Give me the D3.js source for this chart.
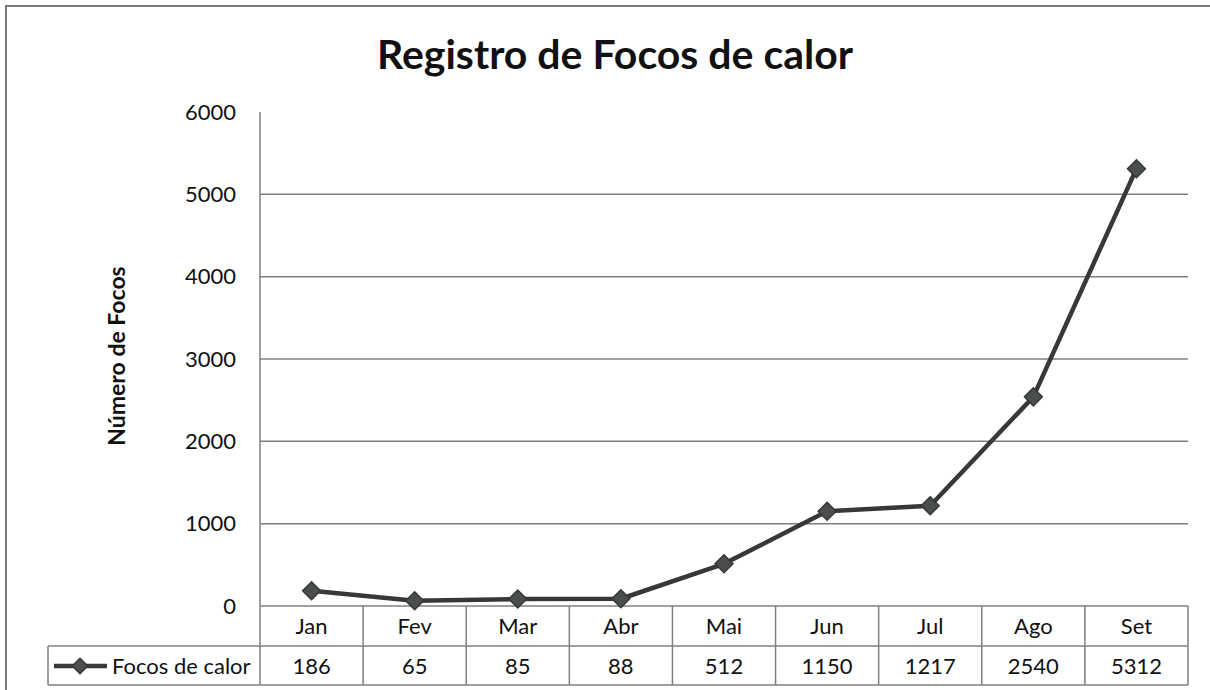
<!DOCTYPE html>
<html><head><meta charset="utf-8">
<script src="https://cdn.jsdelivr.net/npm/d3@7"></script>
<style>body{margin:0;background:#fff}svg{display:block}</style>
</head><body>
<svg id="c" width="1210" height="690"></svg>
<script>
const months = ["Jan","Fev","Mar","Abr","Mai","Jun","Jul","Ago","Set"];
const focos = [186,65,85,88,512,1150,1217,2540,5312];
const yTicks = [0,1000,2000,3000,4000,5000,6000];
const seriesName = "Focos de calor";
const title = "Registro de Focos de calor";
const yLabel = "Número de Focos";

const svg = d3.select("#c");
const font = "Lato, 'Open Sans', sans-serif";
const L = 260, R = 1188, T = 112, B = 606;
const x = d3.scaleBand().domain(months).range([L,R]);
const y = d3.scaleLinear().domain([0,6000]).range([B,T]);
const fs = 22;

// outer frame
svg.append("rect").attr("x",6).attr("y",6).attr("width",1230).attr("height",700)
  .attr("fill","none").attr("stroke","#777").attr("stroke-width",2);

// title
svg.append("text").attr("x",615).attr("y",69).attr("text-anchor","middle")
  .attr("font-family",font).attr("font-weight","bold").attr("font-size",41)
  .attr("fill","#111").text(title);

// y label
svg.append("text").attr("transform","translate(125,356) rotate(-90)")
  .attr("text-anchor","middle").attr("font-family",font).attr("font-weight","bold")
  .attr("font-size",23).attr("fill","#111").text(yLabel);

// gridlines (except 0 and top)
svg.append("g").selectAll("line").data(yTicks.filter(d=>d>0 && d<6000)).join("line")
  .attr("x1",L).attr("x2",R).attr("y1",d=>y(d)).attr("y2",d=>y(d))
  .attr("stroke","#7f7f7f").attr("stroke-width",1.5);

// y axis
const yAxis = d3.axisLeft(y).tickValues(yTicks).tickSize(0).tickPadding(24).tickFormat(d3.format("d"));
const ga = svg.append("g").attr("transform",`translate(${L},0)`).call(yAxis);
ga.select(".domain").remove();
ga.selectAll("text").attr("font-family",font).attr("font-size",fs).attr("fill","#111");
svg.append("line").attr("x1",L).attr("x2",L).attr("y1",T).attr("y2",B)
  .attr("stroke","#7f7f7f").attr("stroke-width",1.5);

// data table
const rowH = 40, r1 = B, r2 = B+rowH, r3 = B+2*rowH-1;
const tbl = svg.append("g").attr("stroke","#7f7f7f").attr("stroke-width",1.5);
tbl.append("line").attr("x1",L).attr("x2",R).attr("y1",r1).attr("y2",r1);
tbl.append("line").attr("x1",48).attr("x2",R).attr("y1",r2).attr("y2",r2);
tbl.append("line").attr("x1",48).attr("x2",R).attr("y1",r3).attr("y2",r3);
tbl.append("line").attr("x1",48).attr("x2",48).attr("y1",r2).attr("y2",r3);
tbl.selectAll(".v").data(months.map(m=>x(m)).concat([R])).join("line")
  .attr("x1",d=>d).attr("x2",d=>d).attr("y1",r1).attr("y2",r3);

svg.append("g").selectAll("text").data(months).join("text")
  .attr("x",d=>x(d)+x.bandwidth()/2).attr("y",r1+rowH/2+8).attr("text-anchor","middle")
  .attr("font-family",font).attr("font-size",fs).attr("fill","#111").text(d=>d);
svg.append("g").selectAll("text").data(focos).join("text")
  .attr("x",(d,i)=>x(months[i])+x.bandwidth()/2).attr("y",r2+rowH/2+8).attr("text-anchor","middle")
  .attr("font-family",font).attr("font-size",fs).attr("fill","#111").text(d=>d);

const lineCol = "#363938";
// legend
svg.append("line").attr("x1",54).attr("x2",107).attr("y1",r2+rowH/2).attr("y2",r2+rowH/2)
  .attr("stroke",lineCol).attr("stroke-width",4.5);
svg.append("path").attr("d",d3.symbol().type(d3.symbolSquare).size(120)())
  .attr("transform",`translate(80,${r2+rowH/2}) rotate(45)`).attr("fill","#4a4e4c").attr("stroke",lineCol).attr("stroke-width",1.5);
svg.append("text").attr("x",112).attr("y",r2+rowH/2+8).attr("font-family",font)
  .attr("font-size",fs).attr("fill","#111").text(seriesName);

// line
const pts = months.map((m,i)=>[x(m)+x.bandwidth()/2, y(focos[i])]);
svg.append("path").attr("d",d3.line()(pts)).attr("fill","none")
  .attr("stroke",lineCol).attr("stroke-width",4.5).attr("stroke-linejoin","round");
svg.append("g").selectAll("path").data(pts).join("path")
  .attr("d",d3.symbol().type(d3.symbolSquare).size(160)())
  .attr("transform",d=>`translate(${d[0]},${d[1]}) rotate(45)`)
  .attr("fill","#4a4e4c").attr("stroke",lineCol).attr("stroke-width",1.5);
</script>
</body></html>
